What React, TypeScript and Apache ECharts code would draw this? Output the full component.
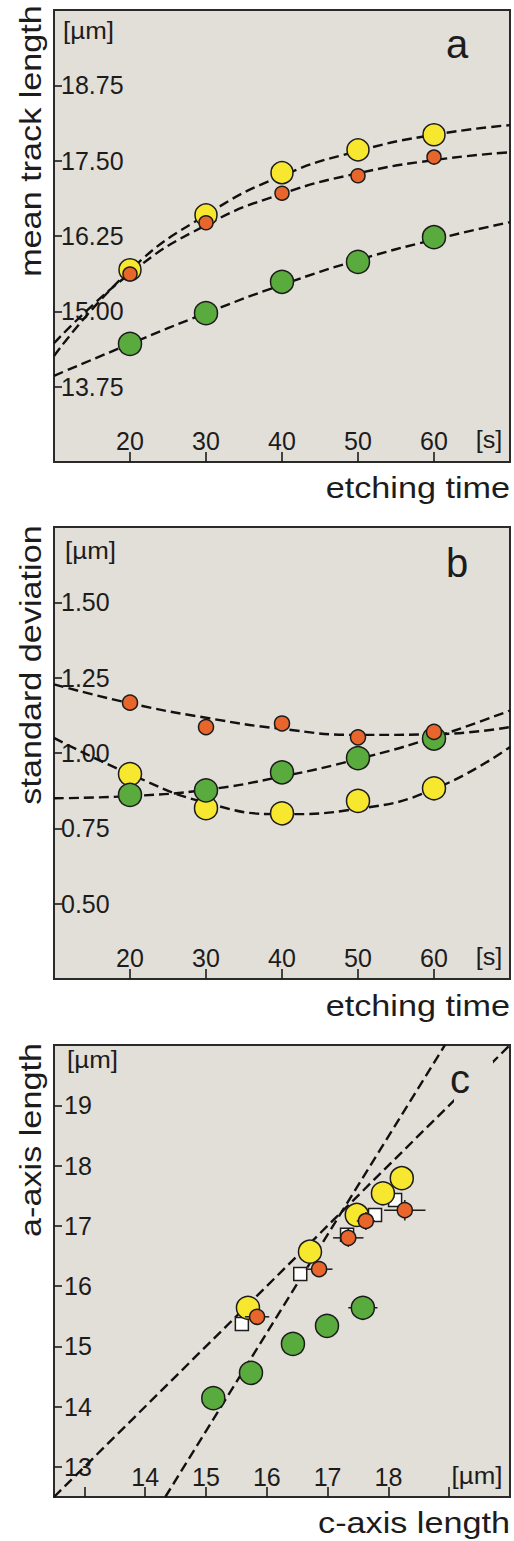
import React, { useEffect, useRef } from 'react';
import * as echarts from 'echarts';

// ---------- data ----------
const etchTimes = [20, 30, 40, 50, 60];
const fitTimes = [10, 20, 30, 40, 50, 60, 70];

// panel a: mean track length [µm]
const meanYellow = [15.69, 16.6, 17.3, 17.68, 17.93];
const meanOrange = [15.62, 16.47, 16.96, 17.25, 17.56];
const meanGreen = [14.46, 14.97, 15.49, 15.82, 16.23];
const meanFitYellow = [14.26, 15.68, 16.6, 17.25, 17.66, 17.93, 18.09];
const meanFitOrange = [14.47, 15.63, 16.43, 16.95, 17.29, 17.51, 17.64];
const meanFitGreen = [13.93, 14.46, 14.97, 15.44, 15.85, 16.19, 16.48];

// panel b: standard deviation [µm]
const sdYellow = [0.93, 0.817, 0.8, 0.841, 0.883];
const sdOrange = [1.167, 1.086, 1.098, 1.052, 1.07];
const sdGreen = [0.861, 0.876, 0.936, 0.983, 1.048];
const sdFitYellow = [1.05, 0.93, 0.835, 0.797, 0.815, 0.88, 1.02];
const sdFitOrange = [1.228, 1.165, 1.117, 1.08, 1.06, 1.062, 1.086];
const sdFitGreen = [0.85, 0.857, 0.878, 0.922, 0.98, 1.052, 1.141];

// panel c: a-axis vs c-axis length [µm]
const cYellow = [15.69, 16.71, 17.48, 17.91, 18.22];
const aYellow = [15.64, 16.57, 17.18, 17.54, 17.79];
const cOrange = [15.84, 16.86, 17.34, 17.63, 18.27];
const aOrange = [15.49, 16.28, 16.8, 17.08, 17.26];
const cOrangeErr = [0.2, 0.22, 0.25, 0.15, 0.34];
const aOrangeErr = [0.1, 0.1, 0.15, 0.15, 0.17];
const cSquare = [15.59, 16.55, 17.32, 17.78, 18.11];
const aSquare = [15.37, 16.2, 16.85, 17.18, 17.43];
const cGreen = [15.12, 15.74, 16.43, 16.99, 17.58];
const aGreen = [14.14, 14.56, 15.04, 15.34, 15.64];
const cGreenErr = [0, 0, 0, 0, 0.24];
const line1C = [12.5, 20];
const line1A = [12.5, 20];
const line2C = [14.33, 18.93];
const line2A = [12.5, 20];

// ticks
const timeTicks = [20, 30, 40, 50, 60];
const meanTicks = [13.75, 15.0, 16.25, 17.5, 18.75];
const sdTicks = [0.5, 0.75, 1.0, 1.25, 1.5];
const cTicks = [13, 14, 15, 16, 17, 18, 19];
const cLabels = [14, 15, 16, 17, 18];
const aTicks = [13, 14, 15, 16, 17, 18, 19];

// ---------- style ----------
const BG = '#e2ded8';
const YELLOW = '#f7e72f';
const ORANGE = '#e8652b';
const GREEN = '#5aab3e';
const INK = '#1c1c1c';
const FONT = '"Liberation Sans", Arial, Helvetica, sans-serif';

const GRIDS = [
  { left: 54, top: 10, width: 456, height: 452 },
  { left: 54, top: 527, width: 456, height: 452 },
  { left: 54, top: 1045, width: 456, height: 452 },
];

function xAxisCfg(gridIndex: number, min: number, max: number, ticks: number[], labels: number[], fontSize: number, margin: number, fmt: (v: number) => string) {
  return {
    type: 'value', gridIndex, min, max,
    axisLine: { show: false },
    splitLine: { show: false },
    axisTick: { show: true, inside: true, length: 10, customValues: ticks, lineStyle: { color: INK, width: 1.6 } },
    axisLabel: { show: true, inside: true, customValues: labels, margin, fontSize, fontFamily: FONT, color: INK, formatter: fmt },
  };
}
function yAxisCfg(gridIndex: number, min: number, max: number, ticks: number[], fontSize: number, margin: number, fmt: (v: number) => string) {
  return {
    type: 'value', gridIndex, min, max,
    axisLine: { show: false },
    splitLine: { show: false },
    axisTick: { show: true, inside: true, length: 8, customValues: ticks, lineStyle: { color: INK, width: 1.6 } },
    axisLabel: { show: true, inside: true, customValues: ticks, margin, fontSize, fontFamily: FONT, color: INK, formatter: fmt },
  };
}

const dash = { color: '#111', width: 2.4, type: [10, 5] as number[] };

function fitLine(idx: number, xs: number[], ys: number[]) {
  return {
    type: 'line', xAxisIndex: idx, yAxisIndex: idx, silent: true,
    data: xs.map((x, i) => [x, ys[i]]),
    smooth: 0.5, symbol: 'none', lineStyle: dash, z: 2,
  };
}
function dots(idx: number, xs: number[], ys: number[], color: string, size: number, z: number, symbol = 'circle') {
  return {
    type: 'scatter', xAxisIndex: idx, yAxisIndex: idx, silent: true,
    data: xs.map((x, i) => [x, ys[i]]),
    symbol, symbolSize: size, z,
    itemStyle: { color, borderColor: INK, borderWidth: 1.5, opacity: 1 },
  };
}
function errBars(idx: number, xs: number[], ys: number[], xe: number[], ye: number[], z: number) {
  return {
    type: 'custom', xAxisIndex: idx, yAxisIndex: idx, silent: true, z,
    encode: { x: 0, y: 1 },
    data: xs.map((x, i) => [x, ys[i], xe[i], ye[i]]),
    renderItem: (params: any, api: any) => {
      const x = api.value(0), y = api.value(1), ex = api.value(2), ey = api.value(3);
      const l = api.coord([x - ex, y]), r = api.coord([x + ex, y]);
      const b = api.coord([x, y - ey]), t = api.coord([x, y + ey]);
      const st = { stroke: INK, lineWidth: 1.5 };
      return {
        type: 'group',
        children: [
          { type: 'line', shape: { x1: l[0], y1: l[1], x2: r[0], y2: r[1] }, style: st },
          { type: 'line', shape: { x1: b[0], y1: b[1], x2: t[0], y2: t[1] }, style: st },
        ],
      };
    },
  };
}

function txt(text: string, x: number, y: number, size: number, align: string, opts: any = {}) {
  return {
    type: 'text', x, y, z: 100, silent: true,
    rotation: opts.rotation || 0,
    scaleX: opts.scaleX || 1,
    style: {
      text, fill: INK, font: `${size}px ${FONT}`, fontSize: size, fontFamily: FONT,
      textAlign: align, align, textVerticalAlign: 'middle', verticalAlign: 'middle',
    },
  };
}

export default function App() {
  const ref = useRef<HTMLDivElement>(null);
  useEffect(() => {
    if (!ref.current) return;
    const chart = echarts.init(ref.current, undefined, { renderer: 'svg' });
    const two = (v: number) => v.toFixed(2);
    const int = (v: number) => String(Math.round(v));
    const option: any = {
      animation: false,
      backgroundColor: '#ffffff',
      grid: GRIDS.map((g) => ({ ...g, show: true, backgroundColor: BG, borderColor: '#2a2a2a', borderWidth: 2, containLabel: false })),
      xAxis: [
        xAxisCfg(0, 10, 70, timeTicks, timeTicks, 25, 9, int),
        xAxisCfg(1, 10, 70, timeTicks, timeTicks, 25, 9, int),
        xAxisCfg(2, 12.5, 20, cTicks, cLabels, 25, 8, int),
      ],
      yAxis: [
        yAxisCfg(0, 12.5, 20, meanTicks, 25, 7, two),
        yAxisCfg(1, 0.25, 1.75, sdTicks, 25, 7, two),
        yAxisCfg(2, 12.5, 20, aTicks, 25, 10, int),
      ],
      series: [
        // panel a
        fitLine(0, fitTimes, meanFitYellow),
        fitLine(0, fitTimes, meanFitOrange),
        fitLine(0, fitTimes, meanFitGreen),
        dots(0, etchTimes, meanGreen, GREEN, 23, 3),
        dots(0, etchTimes, meanYellow, YELLOW, 22, 4),
        dots(0, etchTimes, meanOrange, ORANGE, 14, 5),
        // panel b
        fitLine(1, fitTimes, sdFitYellow),
        fitLine(1, fitTimes, sdFitOrange),
        fitLine(1, fitTimes, sdFitGreen),
        dots(1, etchTimes, sdYellow, YELLOW, 23, 3),
        dots(1, etchTimes, sdGreen, GREEN, 23, 4),
        dots(1, etchTimes, sdOrange, ORANGE, 15, 5),
        // panel c
        { type: 'line', xAxisIndex: 2, yAxisIndex: 2, silent: true, data: line1C.map((c, i) => [c, line1A[i]]), symbol: 'none', lineStyle: dash, z: 2 },
        { type: 'line', xAxisIndex: 2, yAxisIndex: 2, silent: true, data: line2C.map((c, i) => [c, line2A[i]]), symbol: 'none', lineStyle: dash, z: 2 },
        errBars(2, cGreen, aGreen, cGreenErr, cGreenErr.map(() => 0), 3),
        dots(2, cGreen, aGreen, GREEN, 23, 4),
        dots(2, cSquare, aSquare, '#ffffff', 13, 4, 'rect'),
        dots(2, cYellow, aYellow, YELLOW, 23, 5),
        errBars(2, cOrange, aOrange, cOrangeErr, aOrangeErr, 6),
        dots(2, cOrange, aOrange, ORANGE, 15, 7),
      ],
      graphic: [
        // panel a
        txt('[µm]', 63, 30, 24, 'left', { scaleX: 1.08 }),
        txt('a', 457, 44, 40, 'center'),
        txt('[s]', 489, 440, 24, 'center', { scaleX: 1.05 }),
        txt('mean track length', 31, 141, 30, 'center', { rotation: Math.PI / 2, scaleX: 1.14 }),
        txt('etching time', 510, 488, 30, 'right', { scaleX: 1.14 }),
        // panel b
        txt('[µm]', 65, 550, 24, 'left', { scaleX: 1.08 }),
        txt('b', 457, 563, 40, 'center'),
        txt('[s]', 489, 957, 24, 'center', { scaleX: 1.05 }),
        txt('standard deviation', 31, 665, 30, 'center', { rotation: Math.PI / 2, scaleX: 1.14 }),
        txt('etching time', 510, 1006, 30, 'right', { scaleX: 1.14 }),
        // panel c
        { type: 'rect', z: 99, silent: true, shape: { x: 454, y: 1061, width: 39, height: 42 }, style: { fill: BG } },
        txt('[µm]', 67, 1059, 24, 'left', { scaleX: 1.08 }),
        txt('c', 460, 1079, 40, 'center'),
        txt('[µm]', 477, 1475, 24, 'center', { scaleX: 1.08 }),
        txt('a-axis length', 31, 1140, 30, 'center', { rotation: Math.PI / 2, scaleX: 1.14 }),
        txt('c-axis length', 510, 1523, 30, 'right', { scaleX: 1.14 }),
      ],
    };
    chart.setOption(option);
    return () => chart.dispose();
  }, []);
  return <div ref={ref} style={{ position: 'absolute', left: 0, top: 0, width: 514, height: 1541, background: '#fff' }} />;
}
